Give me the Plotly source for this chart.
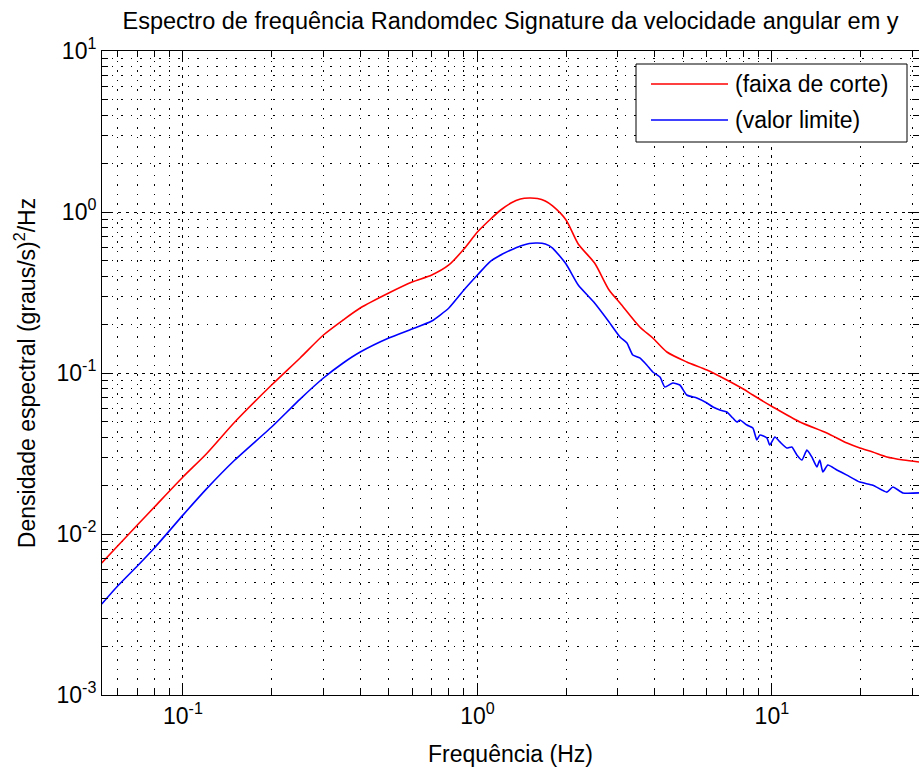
import numpy as np
import plotly.graph_objects as go

# Spectral density of the Randomdec signature (angular velocity, y axis)
freq_red = [0.053, 0.06, 0.07, 0.08, 0.1, 0.12, 0.15, 0.2, 0.25, 0.3, 0.35, 0.4,
            0.5, 0.6, 0.7, 0.8, 0.9, 1.0, 1.1, 1.2, 1.3, 1.4, 1.5, 1.6, 1.7, 1.8,
            2.0, 2.2, 2.5, 2.8, 3.05, 3.56, 3.94, 4.4, 5.14, 6.02, 7.03, 8.0, 8.62,
            10.08, 12.45, 15.37, 18.0, 19.9, 22.0, 24.58, 28.0, 31.6]
dens_red = [0.0066, 0.00842, 0.01137, 0.01471, 0.0226, 0.0314, 0.0496, 0.0842,
            0.124, 0.1722, 0.2134, 0.2533, 0.314, 0.3674, 0.4061, 0.4687, 0.589,
            0.751, 0.892, 1.029, 1.137, 1.204, 1.222, 1.213, 1.17, 1.09, 0.892,
            0.633, 0.482, 0.3278, 0.2721, 0.1931, 0.165, 0.135, 0.1171, 0.1044,
            0.0905, 0.0795, 0.073, 0.0615, 0.0496, 0.0424, 0.0367, 0.0342, 0.0323,
            0.0301, 0.0288, 0.028]

freq_blue = [0.053, 0.06, 0.07, 0.08, 0.1, 0.12, 0.15, 0.2, 0.25, 0.3, 0.35, 0.4,
             0.5, 0.6, 0.7, 0.8, 0.9, 1.0, 1.1, 1.2, 1.3, 1.4, 1.5, 1.6, 1.7, 1.8,
             2.0, 2.2, 2.5, 2.8, 3.05, 3.22, 3.37, 3.56, 3.76, 3.94, 4.17, 4.33,
             4.61, 4.87, 5.14, 5.56, 6.02, 6.31, 6.66, 7.03, 7.37, 7.61, 7.79, 8.23,
             8.62, 8.89, 9.11, 9.62, 9.84, 10.24, 10.65, 11.24, 11.69, 12.16, 12.65,
             13.15, 13.67, 14.22, 14.55, 14.9, 15.49, 16.62, 17.98, 19.9, 22.03,
             24.58, 25.76, 27.85, 31.6]
dens_blue = [0.00367, 0.00475, 0.00633, 0.00819, 0.0131, 0.019, 0.0288, 0.0462,
             0.0689, 0.0931, 0.1154, 0.135, 0.165, 0.1876, 0.2104, 0.2533, 0.3278,
             0.4061, 0.4891, 0.5406, 0.5807, 0.6149, 0.6373, 0.642, 0.6327, 0.5975,
             0.4753, 0.3521, 0.2721, 0.2074, 0.1674, 0.1537, 0.1294, 0.124, 0.1121,
             0.1014, 0.0944, 0.0818, 0.0867, 0.0842, 0.073, 0.0699, 0.0651, 0.0615,
             0.0589, 0.0573, 0.0525, 0.0496, 0.0511, 0.0475, 0.0455, 0.0384, 0.0412,
             0.0395, 0.0357, 0.04, 0.0373, 0.0342, 0.0347, 0.031, 0.0288, 0.0332,
             0.0301, 0.0261, 0.0288, 0.0243, 0.0268, 0.025, 0.0232, 0.021, 0.0201,
             0.0182, 0.0196, 0.018, 0.018]

series_names = ["(faixa de corte)", "(valor limite)"]
series_colors = ["#ff0000", "#0000ff"]

x_major = [0.1, 1, 10]
x_major_text = ["10<sup>-1</sup>", "10<sup>0</sup>", "10<sup>1</sup>"]
y_major = [1e-3, 1e-2, 1e-1, 1, 10]
y_major_text = ["10<sup>-3</sup>", "10<sup>-2</sup>", "10<sup>-1</sup>",
                "10<sup>0</sup>", "10<sup>1</sup>"]

X_MIN, X_MAX = 0.0531, 31.6
Y_MIN, Y_MAX = 1e-3, 10

W, H = 919, 774
L, R, T, B = 102, 0, 51, 79
PW, PH = W - L - R, H - T - B

FONT = "Liberation Sans, Arial, Helvetica, sans-serif"
FS = 23


def minor_vals(lo, hi):
    out = []
    for d in range(int(np.floor(np.log10(lo))), int(np.ceil(np.log10(hi))) + 1):
        for k in range(2, 10):
            v = k * 10.0 ** d
            if lo < v < hi:
                out.append(v)
    return out


def px(xp):
    return (xp - L) / PW


def py(yp):
    return (H - B - yp) / PH


fig = go.Figure()
fig.add_trace(go.Scatter(x=freq_red, y=dens_red, mode="lines", name=series_names[0],
                         line=dict(color=series_colors[0], width=1.6, shape="spline", smoothing=0.7),
                         showlegend=False))
fig.add_trace(go.Scatter(x=freq_blue, y=dens_blue, mode="lines", name=series_names[1],
                         line=dict(color=series_colors[1], width=1.6, shape="spline", smoothing=0.5),
                         showlegend=False))

grid_major = dict(showgrid=True, gridcolor="black", gridwidth=1, griddash="3px,5px")
grid_minor = dict(showgrid=True, gridcolor="black", gridwidth=1, griddash="1.5px,8px",
                  ticks="inside", ticklen=6, tickcolor="black", tickwidth=1)

fig.update_xaxes(type="log", range=[np.log10(X_MIN), np.log10(X_MAX)],
                 tickmode="array", tickvals=x_major, ticktext=x_major_text,
                 ticks="inside", ticklen=11, tickwidth=1, tickcolor="black",
                 showline=True, linecolor="black", linewidth=1, mirror="ticks",
                 zeroline=False,
                 tickfont=dict(family=FONT, size=FS, color="black"),
                 title=dict(text="Frequência (Hz)", font=dict(family=FONT, size=FS, color="black"),
                            standoff=18),
                 minor=dict(tickmode="array", tickvals=minor_vals(X_MIN, X_MAX), **grid_minor),
                 **grid_major)

fig.update_yaxes(type="log", range=[np.log10(Y_MIN), np.log10(Y_MAX)],
                 tickmode="array", tickvals=y_major, ticktext=y_major_text,
                 ticks="inside", ticklen=11, tickwidth=1, tickcolor="black",
                 showline=True, linecolor="black", linewidth=1, mirror="ticks",
                 zeroline=False,
                 tickfont=dict(family=FONT, size=FS, color="black"),
                 title=dict(text="Densidade espectral (graus/s)<sup>2</sup>/Hz",
                            font=dict(family=FONT, size=FS, color="black"), standoff=14),
                 minor=dict(tickmode="array", tickvals=minor_vals(Y_MIN, Y_MAX), **grid_minor),
                 **grid_major)

# legend box drawn by hand so the sample lines have MATLAB proportions
shapes = [dict(type="rect", xref="paper", yref="paper",
               x0=px(636), x1=px(907), y0=py(142), y1=py(64),
               line=dict(color="black", width=1), fillcolor="white", layer="above")]
annotations = []
for i, (name, color) in enumerate(zip(series_names, series_colors)):
    yrow = py(84 + 36 * i)
    shapes.append(dict(type="line", xref="paper", yref="paper",
                       x0=px(651), x1=px(728), y0=yrow, y1=yrow,
                       line=dict(color=color, width=1.6), layer="above"))
    annotations.append(dict(text=name, xref="paper", yref="paper", x=px(733), y=yrow,
                            xanchor="left", yanchor="middle", showarrow=False,
                            font=dict(family=FONT, size=FS, color="black")))

fig.update_layout(
    width=W, height=H, autosize=False,
    margin=dict(l=L, r=R, t=T, b=B, pad=0),
    paper_bgcolor="white", plot_bgcolor="white",
    title=dict(text="Espectro de frequência Randomdec Signature da velocidade angular em y",
               font=dict(family=FONT, size=23.5, color="black"),
               x=0.5, xref="paper", xanchor="center",
               y=1 - 21 / H, yref="container", yanchor="middle"),
    shapes=shapes, annotations=annotations,
    showlegend=False,
)

fig.write_html("out.html")
